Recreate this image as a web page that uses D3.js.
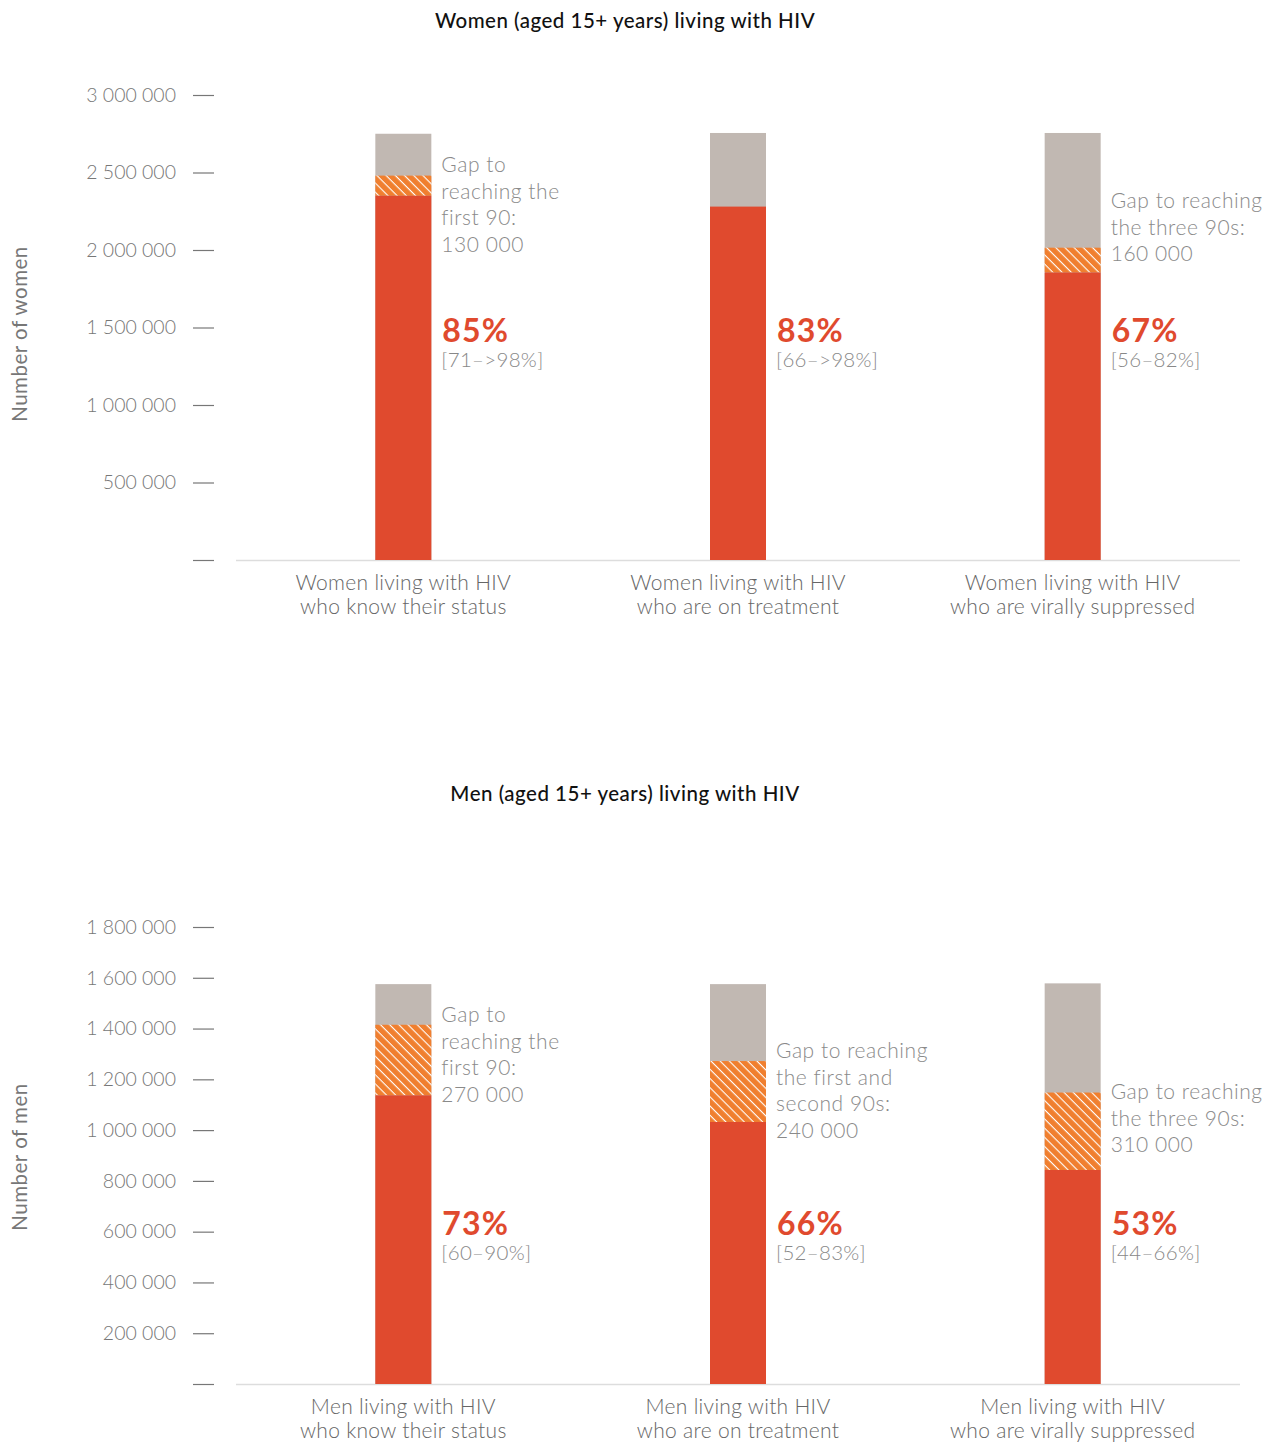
<!DOCTYPE html>
<html>
<head>
<meta charset="utf-8">
<script src="https://cdn.jsdelivr.net/npm/d3@7"></script>
<style>
  body { margin: 0; background: #fff; }
  svg text { font-family: Lato, "Open Sans", sans-serif; }
</style>
</head>
<body>
<svg id="chart" width="1271" height="1442"></svg>
<script>
// ---- data ----
var womenCategories = [["Women living with HIV", "who know their status"],
                       ["Women living with HIV", "who are on treatment"],
                       ["Women living with HIV", "who are virally suppressed"]];
var womenTotal = [2750000, 2755000, 2755000];
var womenAchieved = [2350000, 2280000, 1855000];
var womenGap = [130000, 0, 160000];
var womenPct = ["85%", "83%", "67%"];
var womenRange = ["[71–>98%]", "[66–>98%]", "[56–82%]"];
var womenGapText = [["Gap to", "reaching the", "first 90:", "130 000"], [], ["Gap to reaching", "the three 90s:", "160 000"]];
var womenTicks = [0, 500000, 1000000, 1500000, 2000000, 2500000, 3000000];

var menCategories = [["Men living with HIV", "who know their status"],
                     ["Men living with HIV", "who are on treatment"],
                     ["Men living with HIV", "who are virally suppressed"]];
var menTotal = [1575000, 1575000, 1578000];
var menAchieved = [1137000, 1032000, 843000];
var menGap = [278000, 240000, 305000];
var menPct = ["73%", "66%", "53%"];
var menRange = ["[60–90%]", "[52–83%]", "[44–66%]"];
var menGapText = [["Gap to", "reaching the", "first 90:", "270 000"], ["Gap to reaching", "the first and", "second 90s:", "240 000"], ["Gap to reaching", "the three 90s:", "310 000"]];
var menTicks = [0, 200000, 400000, 600000, 800000, 1000000, 1200000, 1400000, 1600000, 1800000];

var RED = "#E04A2E", ORANGE = "#F07F2F", GREY = "#C1B8B2";

var svg = d3.select("#chart");

// hatch pattern for gaps
var defs = svg.append("defs");
var pat = defs.append("pattern")
    .attr("id", "hatch")
    .attr("patternUnits", "userSpaceOnUse")
    .attr("width", 6.5).attr("height", 6.5)
    .attr("patternTransform", "rotate(45)");
pat.append("rect").attr("width", 6.5).attr("height", 6.5).attr("fill", ORANGE);
pat.append("line").attr("x1", 0).attr("y1", 0).attr("x2", 6.5).attr("y2", 0)
    .attr("stroke", "#fff").attr("stroke-width", 2.2);

var fmt = function(v) { return d3.format(",")(v).replace(/,/g, " "); };

function drawPanel(opt) {
    var g = svg.append("g");
    var x = d3.scaleBand().domain(d3.range(3)).range([236, 1240]);
    var y = d3.scaleLinear().domain([0, opt.max]).range([opt.y0, opt.y1]);
    var bw = 56;

    // title
    g.append("text").attr("x", 625).attr("y", opt.titleY)
        .attr("text-anchor", "middle").attr("font-size", 20.5).attr("fill", "#111")
        .attr("font-weight", 500).attr("letter-spacing", 0.5)
        .text(opt.title);

    // y axis label
    g.append("text")
        .attr("transform", "translate(27," + opt.labelY + ") rotate(-90)")
        .attr("text-anchor", "middle").attr("font-size", 20.5).attr("fill", "#777")
        .attr("letter-spacing", 0.5)
        .text(opt.yLabel);

    // ticks
    var ax = g.append("g").attr("transform", "translate(214,0)")
        .call(d3.axisLeft(y).tickValues(opt.ticks).tickSize(21).tickPadding(17)
            .tickFormat(function(d) { return d === 0 ? "" : fmt(d); }));
    ax.select(".domain").remove();
    ax.selectAll("line").attr("stroke", "#777").attr("stroke-width", 1.2);
    ax.selectAll("text").attr("font-size", 19.5).attr("fill", "#777")
        .attr("font-family", "Lato, sans-serif").attr("font-weight", 300);

    // baseline
    g.append("line").attr("x1", 236).attr("x2", 1240)
        .attr("y1", y(0) + 0.5).attr("y2", y(0) + 0.5)
        .attr("stroke", "#ddd").attr("stroke-width", 1.5);

    var idx = d3.range(3);
    var cx = function(i) { return x(i) + x.bandwidth() / 2; };

    g.selectAll(".tot").data(idx).enter().append("rect")
        .attr("x", function(i) { return cx(i) - bw / 2; }).attr("width", bw)
        .attr("y", function(i) { return y(opt.total[i]); })
        .attr("height", function(i) { return y(0) - y(opt.total[i]); })
        .attr("fill", GREY);
    g.selectAll(".gap").data(idx).enter().append("rect")
        .attr("x", function(i) { return cx(i) - bw / 2; }).attr("width", bw)
        .attr("y", function(i) { return y(opt.achieved[i] + opt.gap[i]); })
        .attr("height", function(i) { return y(opt.achieved[i]) - y(opt.achieved[i] + opt.gap[i]); })
        .attr("fill", "url(#hatch)");
    g.selectAll(".ach").data(idx).enter().append("rect")
        .attr("x", function(i) { return cx(i) - bw / 2; }).attr("width", bw)
        .attr("y", function(i) { return y(opt.achieved[i]); })
        .attr("height", function(i) { return y(0) - y(opt.achieved[i]); })
        .attr("fill", RED);

    // percent labels
    g.selectAll(".pct").data(idx).enter().append("text")
        .attr("x", function(i) { return cx(i) + bw / 2 + 11; })
        .attr("y", opt.pctY)
        .attr("font-size", 32).attr("font-weight", 700).attr("fill", RED)
        .attr("letter-spacing", 1.2)
        .text(function(i) { return opt.pct[i]; });
    g.selectAll(".rng").data(idx).enter().append("text")
        .attr("x", function(i) { return cx(i) + bw / 2 + 10; })
        .attr("y", opt.pctY + 25)
        .attr("font-size", 20.5).attr("font-weight", 300).attr("fill", "#888")
        .attr("letter-spacing", 0.3)
        .text(function(i) { return opt.range[i]; });

    // gap annotations
    idx.forEach(function(i) {
        var t = g.append("text")
            .attr("x", cx(i) + bw / 2 + 10).attr("y", opt.gapY[i])
            .attr("font-size", 21).attr("font-weight", 300).attr("fill", "#8a8a8a")
            .attr("letter-spacing", 0.55);
        opt.gapText[i].forEach(function(line, k) {
            t.append("tspan").attr("x", cx(i) + bw / 2 + 10).attr("dy", k === 0 ? 0 : 26.5).text(line);
        });
    });

    // category labels
    idx.forEach(function(i) {
        var t = g.append("text").attr("text-anchor", "middle")
            .attr("font-size", 21).attr("font-weight", 300).attr("fill", "#666")
            .attr("letter-spacing", 0.3);
        opt.cats[i].forEach(function(line, k) {
            t.append("tspan").attr("x", cx(i)).attr("y", y(0) + 30 + k * 24).text(line);
        });
    });
}

drawPanel({
    title: "Women (aged 15+ years) living with HIV", titleY: 28,
    yLabel: "Number of women", labelY: 334,
    max: 3000000, y0: 560, y1: 95, ticks: womenTicks,
    total: womenTotal, achieved: womenAchieved, gap: womenGap,
    pct: womenPct, range: womenRange, pctY: 342,
    gapText: womenGapText, gapY: [172, 0, 208],
    cats: womenCategories
});

drawPanel({
    title: "Men (aged 15+ years) living with HIV", titleY: 801,
    yLabel: "Number of men", labelY: 1157,
    max: 1800000, y0: 1384, y1: 927, ticks: menTicks,
    total: menTotal, achieved: menAchieved, gap: menGap,
    pct: menPct, range: menRange, pctY: 1235,
    gapText: menGapText, gapY: [1022, 1058, 1099],
    cats: menCategories
});
</script>
</body>
</html>
